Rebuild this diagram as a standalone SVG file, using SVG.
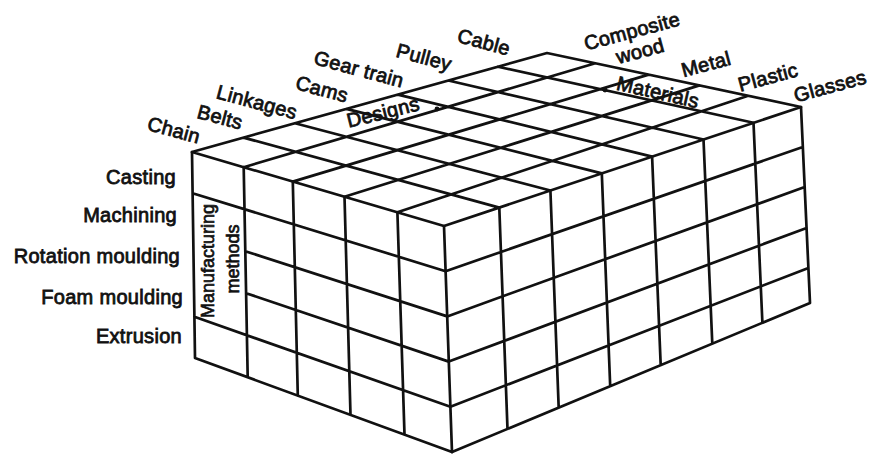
<svg xmlns="http://www.w3.org/2000/svg" width="869" height="456" viewBox="0 0 869 456">
<style>
.g{fill:none;stroke:#111;stroke-width:2.7;stroke-linecap:round;stroke-linejoin:round}
.t{font-family:"Liberation Sans",Arial,sans-serif;font-size:20px;fill:#111;stroke:#111;stroke-width:0.8;letter-spacing:0.3px}
.tm{font-family:"Liberation Sans",Arial,sans-serif;font-size:18px;fill:#111;stroke:#111;stroke-width:0.7}
</style>
<rect width="869" height="456" fill="#fff"/>
<g id="top-face">
<path class="g" d="M192,152 L547,53 L801,107 L444,226 Z
M243.5,137.6 L499.3,207.6
M295,123.3 L550.4,190.5
M346.4,108.9 L601.8,173.4
M397.9,94.6 L652.1,156.6
M448.3,80.5 L703.5,139.5
M498,66.7 L753.5,122.8
M243.7,167.2 L595.3,63.3
M292.8,181.6 L648.6,74.6
M344.5,196.8 L699.4,85.4
M397.4,212.3 L748.2,95.8"/>
<circle cx="437" cy="109" r="2.4" fill="#111"/>
<circle cx="605" cy="90" r="2.4" fill="#111"/>
</g>
<g id="left-face">
<path class="g" d="M192,152 L195,358 L452,452 L444,226
M243.7,167.2 L247.7,377.3
M292.8,181.6 L297.8,395.6
M344.5,196.8 L350.5,414.9
M397.4,212.3 L404.5,434.6
M192.6,193.2 L445.6,271.2
M245.3,251.2 L447.2,316.4
M246.1,293.2 L448.8,361.6
M194.4,316.8 L450.4,406.8"/>
</g>
<g id="right-face">
<path class="g" d="M801,107 L810,303 L452,452
M499.3,207.6 L507.5,428.9
M550.4,190.5 L558.7,407.6
M601.8,173.4 L610.2,386.1
M652.1,156.6 L660.7,365.1
M703.5,139.5 L712.3,343.7
M753.5,122.8 L762.4,322.8
M445.6,271.2 L802.8,147
M447.2,316.4 L804.7,187
M448.8,361.6 L806.6,227.9
M450.4,406.8 L808.4,267.9"/>
</g>
<g id="methods-labels" class="t" text-anchor="end">
<text x="176" y="184">Casting</text>
<text x="177" y="222">Machining</text>
<text x="180" y="263">Rotation moulding</text>
<text x="183" y="304">Foam moulding</text>
<text x="182" y="343">Extrusion</text>
</g>
<g id="methods-title" class="tm" text-anchor="middle">
<text transform="translate(214,261) rotate(-90)">Manufacturing</text>
<text transform="translate(239,259) rotate(-90)">methods</text>
</g>
<g id="design-labels" class="t" text-anchor="middle">
<text transform="translate(174,130) rotate(15)" y="7">Chain</text>
<text transform="translate(220,117) rotate(15)" y="7">Belts</text>
<text transform="translate(257,102) rotate(15)" y="7">Linkages</text>
<text transform="translate(322,89) rotate(15)" y="7">Cams</text>
<text transform="translate(359,69) rotate(15)" y="7">Gear train</text>
<text transform="translate(424,57) rotate(15)" y="7">Pulley</text>
<text transform="translate(484,42) rotate(15)" y="7">Cable</text>
<text transform="translate(383,112) rotate(-14)" y="7">Designs</text>
</g>
<g id="material-labels" class="t" text-anchor="middle">
<text transform="translate(632,31) rotate(-15)" y="7">Composite</text>
<text transform="translate(640,51) rotate(-15)" y="7">wood</text>
<text transform="translate(706,64) rotate(-15)" y="7">Metal</text>
<text transform="translate(768,77) rotate(-15)" y="7">Plastic</text>
<text transform="translate(830,86) rotate(-15)" y="7">Glasses</text>
<text transform="translate(658,92) rotate(13)" y="7">Materials</text>
</g>
</svg>
